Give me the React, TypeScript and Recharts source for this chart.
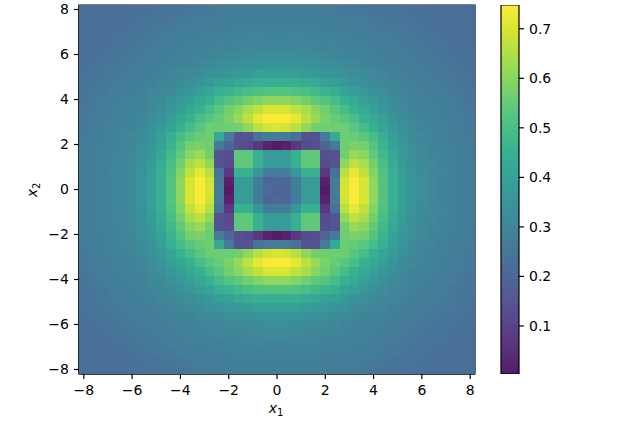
import React from 'react';
import { ScatterChart, Scatter, XAxis, YAxis, ReferenceArea, BarChart, Bar } from 'recharts';

const FONT = '"DejaVu Sans"';
const VMIN = 0.003;
const VMAX = 0.748;
const ALPHA = 0.9;
const AXIS_LIMIT = 8.2;
const PLOT = { left: 79, top: 5, width: 396, height: 369 };
const COLS = 41;
const mainTicks = [-8, -6, -4, -2, 0, 2, 4, 6, 8];
const barTicks = [0.1, 0.2, 0.3, 0.4, 0.5, 0.6, 0.7];
const offsets = [0, 0.4, 0.8, 1.2, 1.6, 2, 2.4, 2.8, 3.2, 3.6, 4, 4.4, 4.8, 5.2, 5.6, 6, 6.4, 6.8, 7.2, 7.6, 8];

// One quadrant of the symmetric picture: row = |x2| step, column = |x1| step.
const r00 = [.20,.21,.27,.38,.38,.005,.27,.70,.745,.70,.61,.52,.44,.39,.355,.325,.31,.30,.29,.28,.275];
const r01 = [.21,.20,.27,.38,.38,.02,.26,.69,.745,.70,.61,.52,.44,.39,.355,.325,.31,.30,.29,.28,.275];
const r02 = [.27,.27,.36,.45,.45,.07,.24,.66,.72,.67,.59,.51,.44,.39,.35,.322,.31,.298,.29,.28,.274];
const r03 = [.38,.38,.45,.54,.54,.12,.14,.61,.67,.64,.57,.50,.43,.38,.345,.32,.305,.297,.288,.279,.273];
const r04 = [.38,.38,.45,.54,.54,.13,.14,.57,.62,.60,.54,.48,.42,.37,.34,.315,.303,.295,.285,.278,.271];
const r05 = [.005,.02,.07,.12,.13,.20,.26,.56,.58,.57,.52,.46,.40,.36,.335,.31,.30,.292,.283,.277,.27];
const r06 = [.27,.26,.24,.14,.14,.26,.42,.56,.55,.53,.49,.44,.39,.35,.325,.305,.298,.29,.28,.276,.266];
const r07 = [.70,.69,.66,.61,.57,.56,.56,.56,.53,.49,.45,.41,.37,.34,.32,.30,.295,.285,.278,.273,.262];
const r08 = [.745,.745,.72,.67,.62,.58,.55,.53,.50,.45,.42,.39,.35,.325,.31,.295,.29,.282,.276,.27,.257];
const r09 = [.70,.70,.67,.64,.60,.57,.53,.49,.45,.42,.39,.36,.33,.315,.30,.29,.285,.278,.274,.265,.25];
const r10 = [.61,.61,.59,.57,.54,.52,.49,.45,.42,.39,.365,.345,.32,.305,.295,.285,.28,.276,.27,.257,.246];
const r11 = [.52,.52,.51,.50,.48,.46,.44,.41,.39,.36,.345,.325,.31,.298,.288,.28,.275,.27,.263,.25,.242];
const r12 = [.44,.44,.44,.43,.42,.40,.39,.37,.35,.33,.32,.31,.298,.29,.28,.275,.27,.265,.255,.245,.238];
const r13 = [.39,.39,.39,.38,.37,.36,.35,.34,.325,.315,.305,.298,.29,.28,.275,.27,.265,.258,.25,.24,.235];
const r14 = [.355,.355,.35,.345,.34,.335,.325,.32,.31,.30,.295,.288,.28,.275,.27,.265,.258,.25,.242,.237,.232];
const r15 = [.325,.325,.322,.32,.315,.31,.305,.30,.295,.29,.285,.28,.275,.27,.265,.258,.25,.243,.238,.234,.23];
const r16 = [.31,.31,.31,.305,.303,.30,.298,.295,.29,.285,.28,.275,.27,.265,.258,.25,.244,.238,.234,.23,.227];
const r17 = [.30,.30,.298,.297,.295,.292,.29,.285,.282,.278,.276,.27,.265,.258,.25,.243,.238,.235,.23,.228,.225];
const r18 = [.29,.29,.29,.288,.285,.283,.28,.278,.276,.274,.27,.263,.255,.25,.242,.238,.234,.23,.228,.225,.225];
const r19 = [.28,.28,.28,.279,.278,.277,.276,.273,.27,.265,.257,.25,.245,.24,.237,.234,.23,.228,.225,.225,.225];
const r20 = [.275,.275,.274,.273,.271,.27,.266,.262,.257,.25,.246,.242,.238,.235,.232,.23,.227,.225,.225,.225,.225];
const quadrant = [r00,r01,r02,r03,r04,r05,r06,r07,r08,r09,r10,r11,r12,r13,r14,r15,r16,r17,r18,r19,r20];

const viridis = [
  [68,1,84],[72,26,108],[71,47,125],[65,68,135],[57,86,140],[49,104,142],[42,120,142],[35,136,142],
  [31,152,139],[34,168,132],[53,183,121],[84,197,104],[122,209,81],[165,219,54],[210,226,27],[253,231,37],
];

const blend = (c: number[]) => c.map((v) => Math.round(v * ALPHA + 255 * (1 - ALPHA)));
const toCss = (c: number[]) => `rgb(${c[0]},${c[1]},${c[2]})`;
const colorAt = (t: number) => {
  const p = Math.min(Math.max(t, 0), 1) * (viridis.length - 1);
  const i = Math.min(Math.floor(p), viridis.length - 2);
  const f = p - i;
  return toCss(blend(viridis[i].map((v, k) => v + (viridis[i + 1][k] - v) * f)));
};
const colorOf = (v: number) => colorAt((v - VMIN) / (VMAX - VMIN));

const signed = [...offsets.slice(1).reverse().map((o) => -o), ...offsets];
const cells = signed.flatMap((y) =>
  signed.map((x) => ({
    x1: x,
    x2: y,
    value: quadrant[offsets.indexOf(Math.abs(y))][offsets.indexOf(Math.abs(x))],
  })),
);
const barData = [{ name: 'scale', range: [VMIN, VMAX] }];

const CELL_W = PLOT.width / COLS;
const CELL_H = PLOT.height / COLS;

const CellShape = (props: any) => (
  <rect
    x={props.cx - CELL_W / 2}
    y={props.cy - CELL_H / 2}
    width={CELL_W + 0.6}
    height={CELL_H + 0.6}
    fill={colorOf(props.payload.value)}
    shapeRendering="crispEdges"
  />
);

const minus = (v: number) => String(v).replace('-', '\u2212');
const tickStyle = { fill: '#000', fontSize: 14, fontFamily: FONT };
const inkLine = { stroke: '#000', strokeWidth: 1.2 };

const XTitle = () => (
  <text x={276} y={413} fontFamily={FONT} fontSize={14} textAnchor="middle" fill="#000">
    <tspan fontStyle="italic">x</tspan>
    <tspan fontSize={10} dy={3}>1</tspan>
  </text>
);
const YTitle = () => (
  <text x={37} y={190} transform="rotate(-90 37 190)" fontFamily={FONT} fontSize={14} textAnchor="middle" fill="#000">
    <tspan fontStyle="italic">x</tspan>
    <tspan fontSize={10} dy={3}>2</tspan>
  </text>
);

export default function App() {
  return (
    <div style={{ position: 'absolute', left: 0, top: 0, width: 638, height: 427, background: '#fff', overflow: 'hidden' }}>
      <div style={{ position: 'absolute', left: 0, top: 0 }}>
        <ScatterChart width={638} height={427} margin={{ left: 19, top: 5, right: 163, bottom: 23 }}>
          <XAxis
            type="number"
            dataKey="x1"
            domain={[-AXIS_LIMIT, AXIS_LIMIT]}
            ticks={mainTicks}
            interval={0}
            height={30}
            allowDataOverflow
            tick={tickStyle}
            tickFormatter={minus}
            tickSize={5}
            tickMargin={6}
            axisLine={inkLine}
            tickLine={inkLine}
            label={{ content: () => <XTitle /> }}
          />
          <YAxis
            type="number"
            dataKey="x2"
            domain={[-AXIS_LIMIT, AXIS_LIMIT]}
            ticks={mainTicks}
            interval={0}
            width={60}
            allowDataOverflow
            tick={tickStyle}
            tickFormatter={minus}
            tickSize={5}
            tickMargin={5}
            axisLine={inkLine}
            tickLine={inkLine}
            label={{ content: () => <YTitle /> }}
          />
          <Scatter data={cells} isAnimationActive={false} shape={CellShape} />
          <ReferenceArea
            x1={-AXIS_LIMIT}
            x2={AXIS_LIMIT}
            y1={-AXIS_LIMIT}
            y2={AXIS_LIMIT}
            fill="none"
            fillOpacity={0}
            stroke="#000"
            strokeOpacity={1}
            strokeWidth={1.2}
            ifOverflow="visible"
          />
        </ScatterChart>
      </div>
      <div style={{ position: 'absolute', left: 500, top: 0 }}>
        <BarChart width={138} height={427} data={barData} barCategoryGap={0} margin={{ left: 1, top: 5, right: 79, bottom: 53 }}>
          <defs>
            <linearGradient id="viridisBar" x1="0" y1="1" x2="0" y2="0">
              {viridis.map((c, i) => (
                <stop key={i} offset={i / (viridis.length - 1)} stopColor={toCss(blend(c))} />
              ))}
            </linearGradient>
          </defs>
          <XAxis dataKey="name" hide />
          <YAxis
            orientation="right"
            type="number"
            domain={[VMIN, VMAX]}
            ticks={barTicks}
            interval={0}
            width={40}
            allowDataOverflow
            axisLine={false}
            tick={tickStyle}
            tickSize={5}
            tickMargin={5}
            tickLine={inkLine}
            tickFormatter={(v: number) => v.toFixed(1)}
          />
          <Bar dataKey="range" fill="url(#viridisBar)" stroke="#000" strokeWidth={1.2} isAnimationActive={false} />
        </BarChart>
      </div>
    </div>
  );
}
